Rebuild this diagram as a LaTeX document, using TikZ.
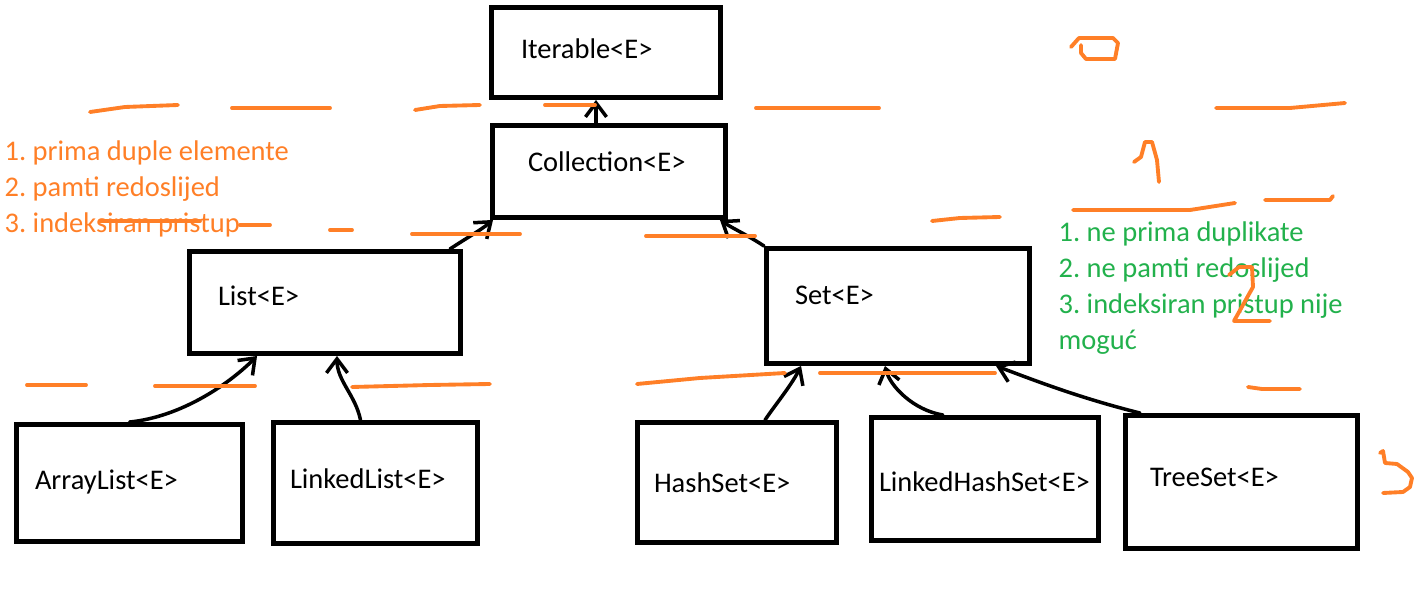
\documentclass[tikz,border=0pt]{standalone}
\usepackage{fontspec}
\setmainfont{Carlito}
\usetikzlibrary{arrows.meta,calc}
\definecolor{paintorange}{RGB}{255,127,39}
\definecolor{paintgreen}{RGB}{34,177,76}
\newcommand\paintfont{\fontsize{8.1}{10.24}\selectfont}
\frenchspacing

\begin{document}
\begin{tikzpicture}[x=0.1mm,y=-0.1mm]
    % Define styles
    \tikzstyle{cell} = [draw, rectangle, line width=1.4pt, align=left, inner ysep=0pt, text height=2mm, font=\paintfont]
    \tikzstyle{arrow} = [line width=1pt, line cap=round, -{Straight Barb[length=4pt,width=6pt]}]
    \tikzstyle{marker} = [paintorange, line width=1.1pt, line cap=round, line join=round]
    \tikzstyle{note} = [align=left, inner sep=0pt, anchor=north west, font=\paintfont]

    \useasboundingbox (0,0) rectangle (1415,589);

    % Draw the boxes
    \node(Iterable)[cell, minimum width=22.9mm, minimum height=9mm, text width=17mm, inner xsep=2.95mm, text depth=0.7mm] at (606,52.5) {Iterable<E>};
    \node(Collection)[cell, minimum width=23.3mm, minimum height=9.2mm, text width=16.2mm, inner xsep=3.55mm, text depth=1.9mm] at (609,171.5) {Collection<E>};
    \node(List)[cell, minimum width=27.1mm, minimum height=10.2mm, text width=21.4mm, inner xsep=2.85mm, text depth=1.3mm] at (325,302.5) {List<E>};
    \node(Set)[cell, minimum width=26.3mm, minimum height=11.5mm, text width=20.6mm, inner xsep=2.85mm, text depth=2.2mm] at (898,306) {Set<E>};
    \node(ArrayList)[cell, minimum width=22.6mm, minimum height=11.7mm, text width=18.9mm, inner xsep=1.85mm, text depth=0.6mm] at (129.5,483) {ArrayList<E>};
    \node(LinkedList)[cell, minimum width=20.4mm, minimum height=12.1mm, text width=17.1mm, inner xsep=1.65mm, text depth=0.8mm] at (375.5,483) {LinkedList<E>};
    \node(HashSet)[cell, minimum width=19.9mm, minimum height=12mm, text width=16.6mm, inner xsep=1.65mm, text depth=0mm] at (737,482.5) {HashSet<E>};
    \node(LinkedHashSet)[cell, minimum width=22.7mm, minimum height=12.3mm, text width=21.2mm, inner xsep=0.75mm, text height=2.6mm, text depth=0mm] at (985,479) {LinkedHashSet<E>};
    \node(TreeSet)[cell, minimum width=23.2mm, minimum height=13.3mm, text width=18.3mm, inner xsep=2.45mm, text depth=1mm] at (1241.5,482) {TreeSet<E>};

    % Arrows to the parent
    \draw[arrow] ($(Collection.north)+(-13,0)$) -- ($(Iterable.south)+(-10,0)$);
    \draw[arrow] ($(List.north east)+(-13,0)$) .. controls +(15,-10) and +(-12,10) .. ($(Collection.south west)+(3,0)$);
    \draw[arrow] (Set.north west) .. controls +(-15,-10) and +(12,8) .. ($(Collection.south east)+(-8,0)$);
    \draw[arrow] (ArrayList.north) .. controls +(50,-5) and +(-30,30) .. ($(List.south west)+(70,0)$);
    \draw[arrow] ($(LinkedList.north)+(-15,0)$) .. controls +(-5,-25) and +(0,25) .. ($(List.south)+(12,0)$);
    \draw[arrow] ($(HashSet.north)+(28,0)$) .. controls +(10,-15) and +(-10,20) .. ($(Set.south west)+(37,0)$);
    \draw[arrow] ($(LinkedHashSet.north)+(-42,0)$) .. controls +(-30,-5) and +(5,20) .. ($(Set.south)+(-13,0)$);
    \draw[arrow] ($(TreeSet.north west)+(17,0)$) .. controls +(-60,-15) and +(40,15) .. ($(Set.south)+(98,0)$);

    % Notes
    \node(listnotes)[note, paintorange] at (4,140) {1. prima duple elemente\\2. pamti redoslijed\\3. indeksiran pristup};
    \node(setnotes)[note, paintgreen] at (1058,221) {1. ne prima duplikate\\2. ne pamti redoslijed\\3. indeksiran pristup nije\\moguć};

    % Orange level marks
    \foreach \xa/\xb/\yy in {232/330/108, 545/595/105, 756/879/108, 100/200/221, 240/270/225, 330/352/230, 412/520/234, 646/755/236, 27/86/385, 155/255/386, 820/995/373}
        \draw[marker] (\xa,\yy) -- (\xb,\yy);
    \draw[marker] (90,112) -- (125,107) -- (178,105);
    \draw[marker] (415,110) -- (440,106) -- (480,105);
    \draw[marker] (1216,108) -- (1290,108) -- (1345,103);
    \draw[marker] (932,221) -- (960,218) -- (1000,217);
    \draw[marker] (352,387) -- (430,385) -- (490,384);
    \draw[marker] (637,384) -- (700,378) -- (785,373);
    \draw[marker] (1073,210) -- (1190,210) -- (1235,203);
    \draw[marker] (1265,200) -- (1330,200) -- (1333,196);
    \draw[marker] (1248,387) -- (1262,389) -- (1300,389);

    % Level numbers
    \draw[marker] (1071,47) -- (1079,38) -- (1113,38) -- (1118,43) -- (1115,59) -- (1086,59) -- (1081,53) -- (1081,45);
    \draw[marker] (1134,162) -- (1141,157) -- (1145,142) -- (1152,142) -- (1157,160) -- (1159,182);
    \draw[marker] (1229,275) -- (1239,267) -- (1252,267) -- (1253,287) -- (1234,321) -- (1270,321);
    \draw[marker] (1380,453) -- (1383,451) -- (1385,463) -- (1397,464) -- (1408,472) -- (1412,478) -- (1410,487) -- (1403,492) -- (1383,493);
  \end{tikzpicture}
\end{document}
